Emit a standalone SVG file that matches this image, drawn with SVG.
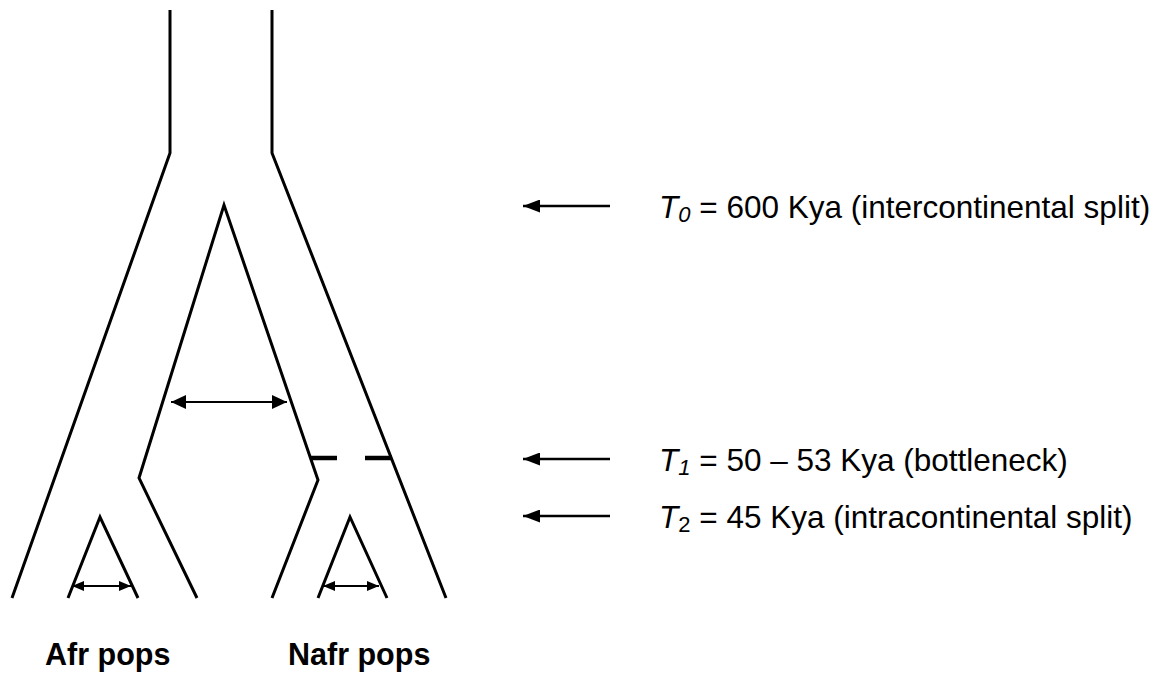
<svg xmlns="http://www.w3.org/2000/svg" width="1164" height="680" viewBox="0 0 1164 680">
  <style>
    .branch { fill: none; stroke: #000; stroke-width: 3; stroke-linejoin: miter; stroke-linecap: butt; }
    .dash { stroke: #000; stroke-width: 4.5; }
    .mig { stroke: #000; stroke-width: 2.2; fill: none; }
    .time { stroke: #000; stroke-width: 2.6; fill: none; }
    .lbl { font-family: "Liberation Sans", Arial, sans-serif; font-size: 31.5px; fill: #000; }
    .pop { font-family: "Liberation Sans", Arial, sans-serif; font-size: 30.5px; font-weight: bold; fill: #000; }
  </style>
  <defs>
    <marker id="headL" markerUnits="userSpaceOnUse" viewBox="0 0 15 14" refX="15" refY="7" markerWidth="15" markerHeight="14" orient="auto-start-reverse">
      <path d="M0,0 L15,7 L0,14 z" fill="#000"/>
    </marker>
    <marker id="headS" markerUnits="userSpaceOnUse" viewBox="0 0 12 10" refX="12" refY="5" markerWidth="12" markerHeight="10" orient="auto-start-reverse">
      <path d="M0,0 L12,5 L0,10 z" fill="#000"/>
    </marker>
    <marker id="headT" markerUnits="userSpaceOnUse" viewBox="0 0 17 13" refX="17" refY="6.5" markerWidth="17" markerHeight="13" orient="auto-start-reverse">
      <path d="M0,0 L17,6.5 L0,13 z" fill="#000"/>
    </marker>
  </defs>

  <!-- population tree -->
  <g id="ancestral-left">
    <path class="branch" d="M170,10 V153 L12,598"/>
  </g>
  <g id="ancestral-right">
    <path class="branch" d="M272,10 V153 L446,598"/>
  </g>
  <g id="inner-split">
    <path class="branch" d="M197,598 L139,478 L224,205 L318,480 L272,598"/>
  </g>
  <g id="bottleneck">
    <line class="dash" x1="310" y1="458" x2="337" y2="458"/>
    <line class="dash" x1="365" y1="458" x2="392" y2="458"/>
  </g>
  <g id="afr-subpops">
    <path class="branch" d="M68,598 L100,517 L138,598"/>
  </g>
  <g id="nafr-subpops">
    <path class="branch" d="M318,598 L350,517 L387,598"/>
  </g>

  <!-- connectors: migration and time markers -->
  <g id="connectors">
    <line class="mig" x1="171" y1="402" x2="287" y2="402" marker-start="url(#headL)" marker-end="url(#headL)"/>
    <line class="mig" x1="72" y1="586" x2="131" y2="586" marker-start="url(#headS)" marker-end="url(#headS)"/>
    <line class="mig" x1="323" y1="586" x2="379" y2="586" marker-start="url(#headS)" marker-end="url(#headS)"/>
    <line class="time" x1="610" y1="206" x2="523" y2="206" marker-end="url(#headT)"/>
    <line class="time" x1="610" y1="459" x2="523" y2="459" marker-end="url(#headT)"/>
    <line class="time" x1="610" y1="516" x2="523" y2="516" marker-end="url(#headT)"/>
  </g>

  <!-- labels -->
  <g id="label-t0">
    <text class="lbl" x="659" y="218"><tspan font-style="italic">T</tspan><tspan font-style="italic" font-size="22" dy="4">0</tspan><tspan dy="-4"> = 600 Kya (intercontinental split)</tspan></text>
  </g>
  <g id="label-t1">
    <text class="lbl" x="659" y="471"><tspan font-style="italic">T</tspan><tspan font-style="italic" font-size="22" dy="4">1</tspan><tspan dy="-4"> = 50 – 53 Kya (bottleneck)</tspan></text>
  </g>
  <g id="label-t2">
    <text class="lbl" x="659" y="528"><tspan font-style="italic">T</tspan><tspan font-size="22" dy="4">2</tspan><tspan dy="-4"> = 45 Kya (intracontinental split)</tspan></text>
  </g>
  <g id="label-afr">
    <text class="pop" x="45" y="665">Afr pops</text>
  </g>
  <g id="label-nafr">
    <text class="pop" x="288" y="665">Nafr pops</text>
  </g>
</svg>
